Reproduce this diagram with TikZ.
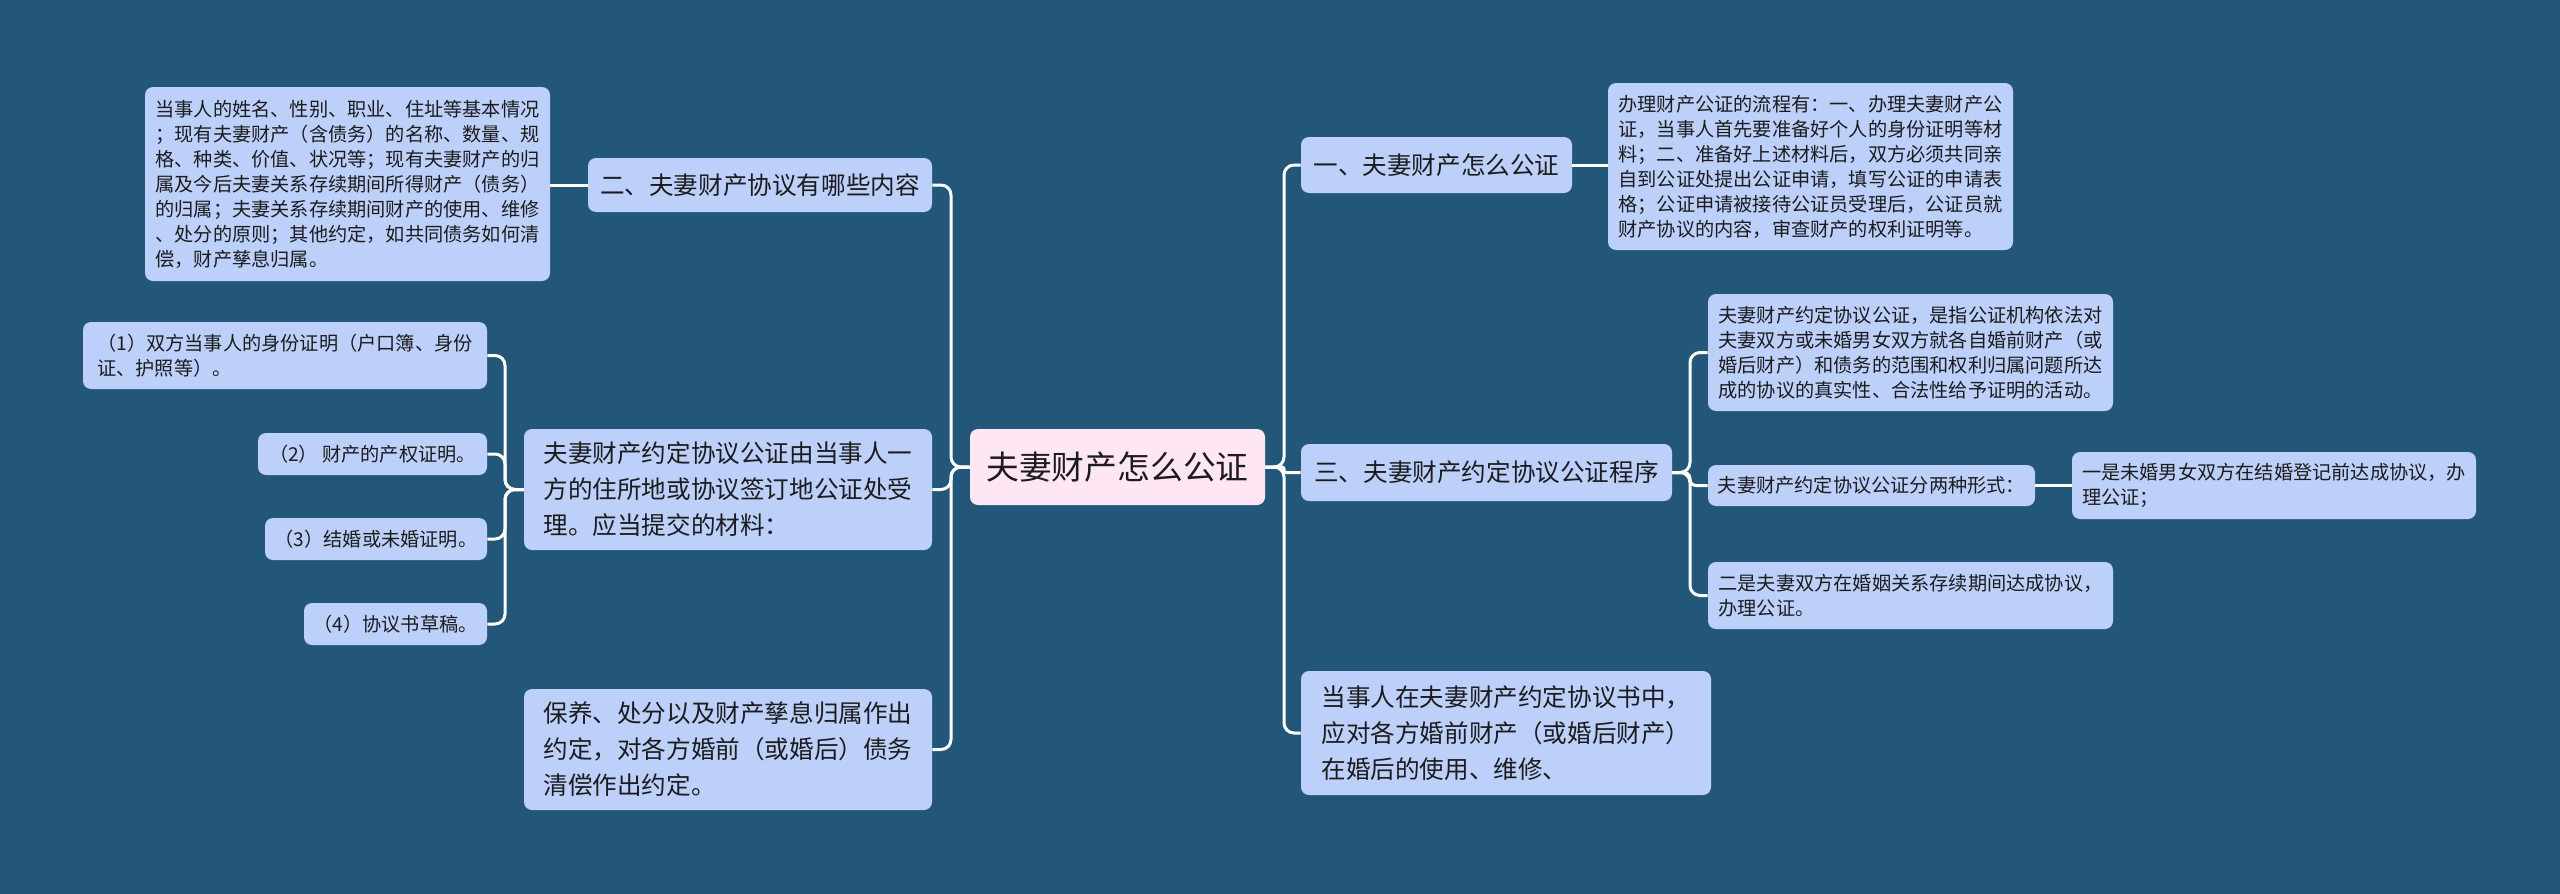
\documentclass[tikz,border=0pt]{standalone}
\usepackage{fontspec}
\setmainfont{Noto Sans CJK SC}
\definecolor{bgblue}{RGB}{35,87,122}
\definecolor{leafblue}{RGB}{188,208,250}
\definecolor{rootpink}{RGB}{255,230,245}
\definecolor{inkgray}{RGB}{28,28,28}
\newcommand{\smallsz}{\fontsize{9.6pt}{12.5pt}\selectfont}
\newcommand{\midsz}{\fontsize{12.3pt}{18pt}\selectfont}
\newcommand{\rootsz}{\fontsize{16.4pt}{20pt}\selectfont}
\tikzset{
    leaf/.style={fill=leafblue, rounded corners=4pt, text=inkgray, align=left, inner sep=0pt, font=\smallsz},
    topic/.style={leaf, font=\midsz},
    boxdim/.style 2 args={minimum width=#1*0.5pt, minimum height=#2*0.5pt},
    link/.style={draw=white, line width=1.5pt, rounded corners=5pt}
}

\begin{document}
\begin{tikzpicture}[x=0.5pt,y=-0.5pt]
    \fill[bgblue] (0,0) rectangle (2560,894);
    \useasboundingbox (0,0) rectangle (2560,894);

    % centre
    \node[leaf, fill=rootpink, font=\rootsz, boxdim={295}{76}] (root) at (1117.5,467) {夫妻财产怎么公证};

    % left side
    \node[topic, boxdim={344}{54}] (n2) at (760,185) {二、夫妻财产协议有哪些内容};
    \node[leaf, boxdim={405}{194}] (tl) at (347.5,184) {当事人的姓名、性别、职业、住址等基本情况\\；现有夫妻财产（含债务）的名称、数量、规\\格、种类、价值、状况等；现有夫妻财产的归\\属及今后夫妻关系存续期间所得财产（债务）\\的归属；夫妻关系存续期间财产的使用、维修\\、处分的原则；其他约定，如共同债务如何清\\偿，财产孳息归属。};
    \node[topic, boxdim={408}{121}] (ml) at (728,489.5) {夫妻财产约定协议公证由当事人一\\方的住所地或协议签订地公证处受\\理。应当提交的材料：};
    \node[leaf, boxdim={404}{67}] (m1) at (285,355.5) {（1）双方当事人的身份证明（户口簿、身份\\证、护照等）。};
    \node[leaf, boxdim={229}{42}] (m2) at (372.5,454) {（2） 财产的产权证明。};
    \node[leaf, boxdim={222}{42}] (m3) at (376,539) {（3）结婚或未婚证明。};
    \node[leaf, boxdim={183}{42}] (m4) at (395.5,624) {（4）协议书草稿。};
    \node[topic, boxdim={408}{121}] (bl) at (728,749.5) {保养、处分以及财产孳息归属作出\\约定，对各方婚前（或婚后）债务\\清偿作出约定。};

    % right side
    \node[topic, boxdim={271}{56}] (n1) at (1436.5,165) {一、夫妻财产怎么公证};
    \node[leaf, boxdim={405}{167}] (tr) at (1810.5,166.5) {办理财产公证的流程有：一、办理夫妻财产公\\证，当事人首先要准备好个人的身份证明等材\\料；二、准备好上述材料后，双方必须共同亲\\自到公证处提出公证申请，填写公证的申请表\\格；公证申请被接待公证员受理后，公证员就\\财产协议的内容，审查财产的权利证明等。};
    \node[topic, boxdim={371}{57}] (n3) at (1486.5,472.5) {三、夫妻财产约定协议公证程序};
    \node[leaf, boxdim={405}{117}] (d1) at (1910.5,352.5) {夫妻财产约定协议公证，是指公证机构依法对\\夫妻双方或未婚男女双方就各自婚前财产（或\\婚后财产）和债务的范围和权利归属问题所达\\成的协议的真实性、合法性给予证明的活动。};
    \node[leaf, boxdim={327}{41}] (d2) at (1871.5,485.5) {夫妻财产约定协议公证分两种形式：};
    \node[leaf, boxdim={404}{67}] (e1) at (2274,485.5) {一是未婚男女双方在结婚登记前达成协议，办\\理公证；};
    \node[leaf, boxdim={405}{67}] (d3) at (1910.5,595.5) {二是夫妻双方在婚姻关系存续期间达成协议，\\办理公证。};
    \node[topic, boxdim={410}{124}] (n4) at (1506,733) {当事人在夫妻财产约定协议书中，\\应对各方婚前财产（或婚后财产）\\在婚后的使用、维修、};

    % junctions
    \coordinate (lj) at (951,467);
    \coordinate (mj) at (505,489.5);
    \coordinate (rj) at (1284,467);
    \coordinate (tj) at (1690,472.5);

    % connectors
    \draw[link] (root.west) -- (lj) |- (n2.east);
    \draw[link] (root.west) -- (lj) |- (ml.east);
    \draw[link] (root.west) -- (lj) |- (bl.east);
    \draw[link] (n2.west) -- (n2.west -| tl.east);
    \draw[link] (ml.west) -- (mj) |- (m1.east);
    \draw[link] (ml.west) -- (mj) |- (m2.east);
    \draw[link] (ml.west) -- (mj) |- (m3.east);
    \draw[link] (ml.west) -- (mj) |- (m4.east);
    \draw[link] (root.east) -- (rj) |- (n1.west);
    \draw[link, rounded corners=1pt] (root.east) -- (rj) |- (n3.west);
    \draw[link] (root.east) -- (rj) |- (n4.west);
    \draw[link] (n1.east) -- (n1.east -| tr.west);
    \draw[link] (n3.east) -- (tj) |- (d1.west);
    \draw[link, rounded corners=3pt] (n3.east) -- (tj) |- (d2.west);
    \draw[link] (n3.east) -- (tj) |- (d3.west);
    \draw[link] (d2.east) -- (e1.west);
\end{tikzpicture}
\end{document}
